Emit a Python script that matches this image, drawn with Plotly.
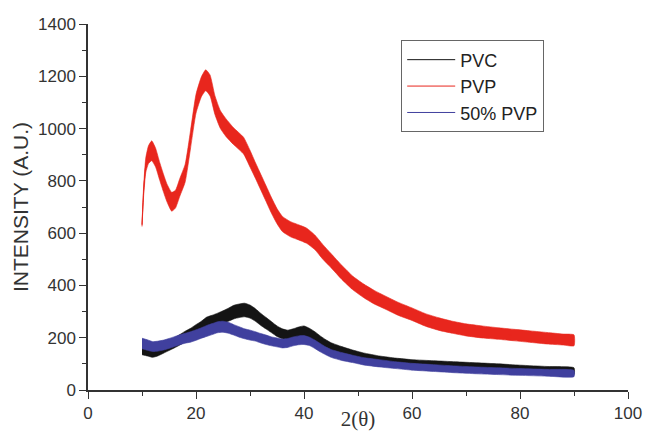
import plotly.graph_objects as go

# ---- data ----
# PVP (red)
pvp_x = [10, 10.3, 10.7, 11.2, 11.8, 12.5, 13.3, 14.0, 14.6, 15.5, 16.2, 17.0, 18.0, 19.0, 20.0,
         21.0, 21.8, 22.6, 23.5, 24.5, 25.5, 27.0, 28.8, 30.0, 31.0, 32.0, 33.0, 34.0, 35.0, 36.0,
         37.5, 39.0, 40.5, 42.0, 43.5, 45.0, 47.0, 49.0, 51.0, 53.0, 55.0, 57.5, 60.0, 62.5, 65.0,
         67.5, 70.0, 73.0, 76.0, 79.0, 82.0, 85.0, 88.0, 90.0]
pvp_y = [630, 760, 860, 900, 915, 890, 835, 790, 755, 720, 730, 775, 830, 960, 1095,
         1160, 1185, 1165, 1090, 1035, 1005, 970, 935, 885, 840, 795, 750, 705, 665, 635,
         615, 603, 590, 565, 528, 495, 450, 410, 380, 355, 335, 310, 290, 268, 252,
         240, 230, 222, 216, 210, 204, 198, 193, 190]
pvp_noise = [5, 18, 28, 34, 38, 36, 34, 34, 34, 36, 34, 34, 34, 34, 36,
             38, 40, 40, 36, 34, 34, 32, 32, 32, 30, 30, 30, 30, 29, 29,
             29, 29, 29, 28, 28, 27, 27, 26, 26, 26, 25, 25, 24, 24, 24,
             23, 23, 23, 22, 22, 22, 22, 21, 21]

# PVC (black)
pvc_x = [10, 11, 12, 13, 14, 15, 16, 17, 18, 19, 20, 21, 22, 23, 24, 25, 26, 27, 28, 29,
         30, 31, 32, 33, 34, 35, 36, 37, 38, 39, 40, 41, 42, 43, 44, 45, 47, 49, 51, 54,
         57, 60, 64, 68, 72, 76, 80, 85, 90]
pvc_y = [155, 150, 145, 150, 160, 170, 180, 192, 205, 215, 228, 240, 255, 262, 270, 278, 288, 298, 303, 306,
         300, 287, 270, 255, 240, 225, 215, 210, 215, 222, 226, 218, 205, 190, 176, 165, 150, 138, 127, 116,
         108, 102, 98, 94, 90, 86, 81, 76, 72]
pvc_noise = [20, 20, 20, 19, 19, 19, 19, 20, 20, 21, 22, 23, 24, 24, 24, 25, 25, 26, 26, 26,
             25, 24, 23, 22, 21, 20, 19, 19, 19, 19, 19, 18, 18, 17, 17, 16, 16, 15, 15, 14,
             14, 14, 14, 14, 14, 14, 14, 14, 13]

# 50% PVP (blue)
mix_x = pvc_x
mix_y = [178, 172, 166, 168, 172, 178, 185, 192, 198, 203, 210, 218, 226, 233, 240, 242, 238, 230, 222, 215,
         210, 205, 198, 192, 186, 182, 178, 180, 186, 190, 191, 186, 175, 162, 150, 140, 128, 119, 110, 102,
         95, 89, 84, 79, 75, 72, 69, 66, 63]
mix_noise = [20, 20, 19, 19, 19, 19, 19, 19, 19, 20, 20, 20, 21, 21, 21, 21, 21, 20, 20, 19,
             19, 18, 18, 18, 17, 17, 17, 17, 17, 17, 17, 16, 16, 16, 15, 15, 15, 14, 14, 14,
             13, 13, 13, 13, 13, 13, 13, 13, 12]

series = [
    ("PVC", pvc_x, pvc_y, pvc_noise, "#141414"),
    ("PVP", pvp_x, pvp_y, pvp_noise, "#e8261d"),
    ("50% PVP", mix_x, mix_y, mix_noise, "#40409e"),
]

fig = go.Figure()
for name, xs, ys, nz, col in series:
    upper = [y + n for y, n in zip(ys, nz)]
    lower = [y - n for y, n in zip(ys, nz)]
    fig.add_trace(go.Scatter(
        x=list(xs) + list(xs)[::-1],
        y=upper + lower[::-1],
        mode="lines", fill="toself", fillcolor=col,
        line=dict(color=col, width=0.6, shape="spline", smoothing=0.5),
        showlegend=False, hoverinfo="skip"))
    fig.add_trace(go.Scatter(
        x=xs, y=ys, mode="lines", name=name,
        line=dict(color=col, width=1, shape="spline", smoothing=0.5)))

sans = "Arial, Liberation Sans, sans-serif"
serif = "Times New Roman, Liberation Serif, serif"
axcol = "#333333"

fig.update_layout(
    width=646, height=431,
    margin=dict(l=88, r=18, t=24, b=41),
    plot_bgcolor="white", paper_bgcolor="white",
    font=dict(family=sans, color="#333333"),
    legend=dict(x=0.58, y=0.955, xanchor="left", yanchor="top",
                bordercolor="#666666", borderwidth=1, bgcolor="white",
                font=dict(size=18, family=sans, color="#222222"),
                tracegroupgap=0, itemwidth=48),
    xaxis=dict(range=[0, 100], tick0=0, dtick=20, ticks="outside", ticklen=7, tickwidth=1.2,
               tickcolor=axcol, showline=True, linecolor=axcol, linewidth=1.5,
               showgrid=False, zeroline=False,
               minor=dict(ticks="outside", dtick=10, ticklen=4, tickcolor=axcol, showgrid=False),
               tickfont=dict(size=17, family=sans, color="#333333"),
               title=dict(text="2(θ)", font=dict(size=21, family=serif, color="#333333"), standoff=3),
               automargin=False),
    yaxis=dict(range=[0, 1400], tick0=0, dtick=200, ticks="outside", ticklen=7, tickwidth=1.2,
               tickcolor=axcol, showline=True, linecolor=axcol, linewidth=1.5,
               showgrid=False, zeroline=False,
               minor=dict(ticks="outside", dtick=100, ticklen=4, tickcolor=axcol, showgrid=False),
               tickfont=dict(size=17, family=sans, color="#333333"),
               title=dict(text="INTENSITY (A.U.)", font=dict(size=21, family=sans, color="#333333"), standoff=4),
               automargin=False),
)

fig.write_html("out.html")
